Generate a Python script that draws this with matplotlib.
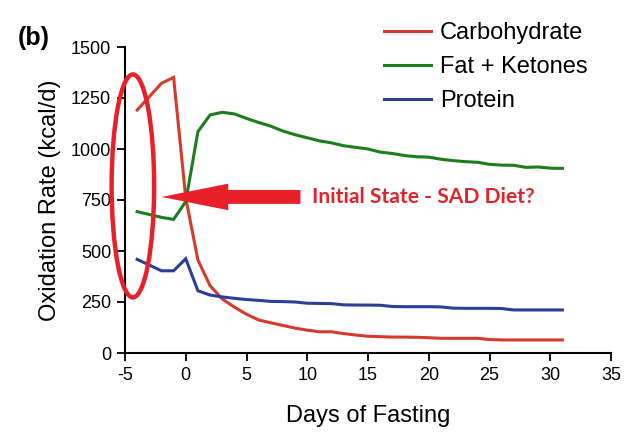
import matplotlib
matplotlib.use("Agg")
import matplotlib.pyplot as plt
from matplotlib.patches import Ellipse, FancyArrow

days = [-4, -2, -1, 0, 1, 2, 3, 4, 5, 6, 7, 8, 9, 10, 11, 12, 13, 14, 15, 16,
        17, 18, 19, 20, 21, 22, 23, 24, 25, 26, 27, 28, 29, 30, 31]
carbohydrate = [1191, 1322, 1351, 760, 456, 330, 265, 225, 190, 162, 148, 135, 122, 112,
                104, 104, 95, 88, 82, 80, 78, 78, 77, 75, 72, 72, 72, 72, 66, 64, 64, 64,
                64, 64, 64]
fat_ketones = [693, 665, 655, 742, 1085, 1167, 1180, 1172, 1150, 1130, 1112, 1088, 1070,
               1055, 1040, 1030, 1016, 1008, 1000, 985, 978, 968, 962, 960, 950, 943, 938,
               935, 925, 921, 920, 910, 912, 906, 905]
protein = [459, 403, 403, 462, 305, 284, 275, 268, 262, 258, 253, 252, 250, 244, 243, 242,
           236, 235, 235, 234, 228, 227, 227, 227, 226, 220, 219, 219, 219, 218, 211, 211,
           211, 211, 211]
x_ticks = [-5, 0, 5, 10, 15, 20, 25, 30, 35]
y_ticks = [0, 250, 500, 750, 1000, 1250, 1500]

plt.rcParams['font.family'] = ['Liberation Sans', 'DejaVu Sans']
plt.rcParams['axes.unicode_minus'] = False

fig = plt.figure(figsize=(6.4, 4.46), dpi=100)
ax = fig.add_axes([125/640, 1 - 353/446, (611-125)/640, (353-47)/446])

lw = 2.2
ax.plot(days, carbohydrate, color='#d63a2c', lw=lw, label='Carbohydrate', solid_joinstyle='miter')
ax.plot(days, fat_ketones, color='#1b7d1b', lw=lw, label='Fat + Ketones', solid_joinstyle='miter')
ax.plot(days, protein, color='#2b3e98', lw=lw, label='Protein', solid_joinstyle='miter')

ax.set_xlim(-5, 35)
ax.set_ylim(0, 1500)
ax.set_xticks(x_ticks)
ax.set_yticks(y_ticks)
ax.tick_params(axis='both', direction='out', length=6, width=1.3, labelsize=13, pad=4)
for s in ['top', 'right']:
    ax.spines[s].set_visible(False)
for s in ['left', 'bottom']:
    ax.spines[s].set_linewidth(1.5)

ax.set_xlabel('Days of Fasting', fontsize=17, labelpad=15)
ax.set_ylabel('Oxidation Rate (kcal/d)', fontsize=17, labelpad=7)

leg = fig.legend(loc='upper left', bbox_to_anchor=(363/640, 1 - 1/446), frameon=False,
                 fontsize=17, handlelength=2.0, handletextpad=0.35, labelspacing=0.5)

fig.text(18/640, 1 - 45/446, '(b)', fontsize=18, fontweight='bold')

# annotation: ellipse and arrow
ell = Ellipse((-4.35, 819), width=3.5, height=1093, fill=False, edgecolor='#e8202a',
              lw=3.2, clip_on=False, zorder=5)
ax.add_patch(ell)
arr = FancyArrow(9.44, 765, -11.44, 0, width=68, head_width=130, head_length=5.5,
                 length_includes_head=True, color='#e8202a', lw=0, zorder=5)
ax.add_patch(arr)
ax.text(10.4, 765, 'Initial State - SAD Diet?', color='#e0242c', fontsize=15.1,
        fontweight='bold', family=['Lato', 'DejaVu Sans'], va='center', ha='left')

fig.savefig('out.png', dpi=100)
